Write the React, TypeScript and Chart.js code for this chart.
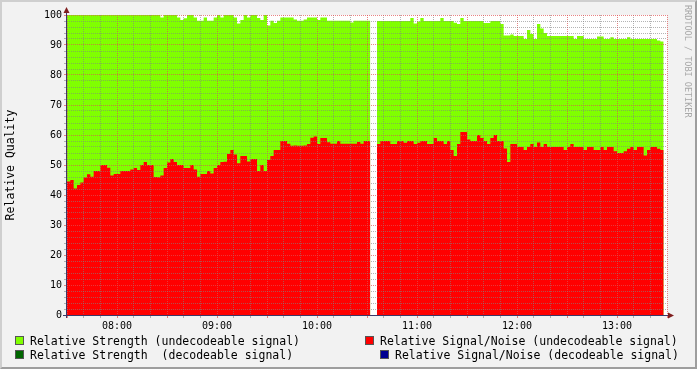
import React, { useEffect, useRef } from 'react';
import { Chart, registerables } from 'chart.js';

Chart.register(...registerables);

// time axis in minutes since midnight
const START_MIN = 450; // 07:30, first sample
const STEP_MIN = 2; // sample width in minutes
const X_MIN = 450; // 07:30
const X_MAX = 810; // 13:30

const HOUR_LABELS = ['08:00', '09:00', '10:00', '11:00', '12:00', '13:00'];
const FIRST_HOUR_MIN = 480;

// Relative Strength (undecodeable signal)
const strengthUndecodeable: (number | null)[] = [
  100, 100, 100, 100, 100, 100, 100, 100, 100, 100,
  100, 100, 100, 100, 100, 100, 100, 100, 100, 100,
  100, 100, 100, 100, 100, 100, 100, 100, 99.2, 100,
  100, 100, 100, 99.2, 98.3, 98.9, 100, 100, 99.2, 98.1,
  98.1, 99.2, 98.1, 98.1, 99.2, 100, 99.2, 100, 100, 100,
  99.2, 97.2, 98.3, 100, 99.2, 100, 100, 99, 98.3, 100,
  96.5, 98.1, 97.3, 98.1, 99.2, 99.2, 99.2, 99.2, 98.5, 98.1,
  98.1, 98.5, 99.2, 99.2, 99.2, 98.3, 99.2, 99.2, 98.1, 98.1,
  98.1, 98.1, 98.1, 98.1, 98.1, 97.5, 98.1, 98.1, 98.1, 98.1,
  98.1, null, null, 98, 98, 98, 98, 98, 98, 98,
  98, 98, 98, 99, 97.2, 97.8, 99, 98, 98, 98,
  98, 98, 99, 98, 98, 98, 97.4, 97, 99, 98,
  98, 98, 98, 98, 98, 97.3, 97.3, 98, 98, 98,
  97, 93.2, 93.2, 93.5, 93, 93, 93, 92, 95, 93.7,
  92, 97, 95.5, 94, 93, 93, 93, 93, 93, 93,
  93, 93, 92, 93, 93, 92, 92, 92, 92, 92.8,
  92.8, 92, 92, 92.6, 92, 92, 92, 92, 92.6, 92,
  92, 92, 92, 92, 92, 92, 92, 91.5, 91.2,
];

// Relative Signal/Noise (undecodeable signal)
const snrUndecodeable: (number | null)[] = [
  44.5, 45, 42.2, 43.3, 44.2, 45.8, 46.9, 46.1, 48, 48,
  50, 50, 49.1, 46.5, 47, 47, 48, 48, 48, 48.5,
  49, 48.3, 50, 51, 50, 50, 46, 45.9, 46.5, 49,
  50.8, 52, 51, 50, 50, 49, 49, 50, 48.5, 46.1,
  47, 47, 48, 47.2, 49, 50, 51, 51.1, 53.7, 55,
  53.5, 50.6, 53, 53, 51.2, 52, 52, 48, 50, 48,
  51.7, 53, 55, 55, 58, 58, 57.1, 56.4, 56.5, 56.4,
  56.4, 56.5, 57, 59.1, 59.5, 57, 59, 59, 57.6, 57.1,
  57.1, 58, 57.1, 57.1, 57.1, 57.1, 57.1, 57.7, 57.1, 58,
  58, null, null, 57, 58, 58, 58, 57, 57, 58,
  58, 57.4, 58, 58, 57, 57.4, 58, 58, 57, 57,
  59, 58, 58, 57, 58, 55, 53, 57, 61, 61,
  58.5, 58, 58, 60, 59, 58, 57, 59, 60, 58,
  58, 55.5, 51, 57, 57, 56, 56, 55, 56, 57,
  56, 57.5, 56, 57, 56, 56, 56, 56, 56, 55,
  56, 57, 56, 56, 56, 55, 56, 56, 55, 55,
  56, 55, 56, 56, 54.6, 54, 54, 54.6, 55.4, 56,
  55, 56, 56, 53.2, 55, 56, 56, 55.4, 55,
];

// decodeable series: nothing visible in the picture
const strengthDecodeable: (number | null)[] = [];
const snrDecodeable: (number | null)[] = [];

const SERIES_NAMES = [
  'Relative Strength (undecodeable signal)',
  'Relative Signal/Noise (undecodeable signal)',
  'Relative Strength  (decodeable signal)',
  'Relative Signal/Noise (decodeable signal)',
];
const SERIES_COLORS = ['#80FF00', '#FF0000', '#006600', '#000090'];

const GRID = 'rgba(130,130,130,0.6)';
const MGRID = 'rgba(222,80,80,0.7)';
const AXIS = '#3c3868';
const ARROW = '#801F1F';
const MONO = "'DejaVu Sans Mono', monospace";

function toStepPoints(vals: (number | null)[]) {
  const pts: { x: number; y: number | null }[] = [];
  vals.forEach((v, i) => {
    const x0 = START_MIN + i * STEP_MIN;
    if (v === null || v === undefined) {
      pts.push({ x: x0, y: null });
    } else {
      pts.push({ x: x0, y: v });
      pts.push({ x: x0 + STEP_MIN, y: v });
    }
  });
  return pts;
}

export default function App() {
  const ref = useRef<HTMLCanvasElement>(null);

  useEffect(() => {
    document.body.style.margin = '0';
    const canvas = ref.current;
    if (!canvas) return;

    const areaBg = {
      id: 'areaBg',
      beforeDraw(chart: any) {
        const { ctx, chartArea } = chart;
        ctx.save();
        ctx.fillStyle = '#FFFFFF';
        ctx.fillRect(chartArea.left, chartArea.top, chartArea.right - chartArea.left, chartArea.bottom - chartArea.top);
        ctx.restore();
      },
    };

    const axesArrows = {
      id: 'axesArrows',
      afterDraw(chart: any) {
        const { ctx, chartArea } = chart;
        const { left, top, right, bottom } = chartArea;
        ctx.save();
        ctx.strokeStyle = AXIS;
        ctx.lineWidth = 1;
        ctx.beginPath();
        ctx.moveTo(left - 0.5, bottom + 3);
        ctx.lineTo(left - 0.5, top - 3);
        ctx.moveTo(left - 4, bottom + 0.5);
        ctx.lineTo(right + 2, bottom + 0.5);
        ctx.stroke();
        ctx.fillStyle = ARROW;
        ctx.beginPath();
        ctx.moveTo(left - 0.5, top - 8);
        ctx.lineTo(left - 3.5, top - 2);
        ctx.lineTo(left + 2.5, top - 2);
        ctx.closePath();
        ctx.fill();
        ctx.beginPath();
        ctx.moveTo(right + 7, bottom + 0.5);
        ctx.lineTo(right + 1, bottom - 2.5);
        ctx.lineTo(right + 1, bottom + 3.5);
        ctx.closePath();
        ctx.fill();
        ctx.restore();
      },
    };

    const gridX = (c: any) => (c.tick && c.tick.value % 30 === 0 ? MGRID : GRID);
    const gridY = (c: any) => (c.tick && c.tick.value % 10 === 0 ? MGRID : GRID);

    const chart = new Chart(canvas, {
      type: 'line',
      data: {
        datasets: [
          {
            label: SERIES_NAMES[1],
            data: toStepPoints(snrUndecodeable) as any,
            backgroundColor: SERIES_COLORS[1],
            borderColor: 'rgba(0,0,0,0)',
            borderWidth: 0,
            fill: 'origin',
            pointRadius: 0,
            tension: 0,
            order: 1,
          },
          {
            label: SERIES_NAMES[0],
            data: toStepPoints(strengthUndecodeable) as any,
            backgroundColor: SERIES_COLORS[0],
            borderColor: 'rgba(0,0,0,0)',
            borderWidth: 0,
            fill: 'origin',
            pointRadius: 0,
            tension: 0,
            order: 2,
          },
          {
            label: SERIES_NAMES[2],
            data: toStepPoints(strengthDecodeable) as any,
            backgroundColor: SERIES_COLORS[2],
            borderColor: 'rgba(0,0,0,0)',
            borderWidth: 0,
            fill: 'origin',
            pointRadius: 0,
            order: 3,
          },
          {
            label: SERIES_NAMES[3],
            data: toStepPoints(snrDecodeable) as any,
            backgroundColor: SERIES_COLORS[3],
            borderColor: 'rgba(0,0,0,0)',
            borderWidth: 0,
            fill: 'origin',
            pointRadius: 0,
            order: 0,
          },
        ],
      },
      options: {
        animation: false,
        responsive: false,
        maintainAspectRatio: false,
        events: [],
        layout: { padding: { left: 0, top: 15, right: 30, bottom: 34 } },
        plugins: {
          legend: { display: false },
          tooltip: { enabled: false },
        },
        scales: {
          x: {
            type: 'linear',
            min: X_MIN,
            max: X_MAX,
            afterFit: (s: any) => {
              s.height = 20;
            },
            ticks: {
              stepSize: 10,
              maxTicksLimit: 1000,
              autoSkip: false,
              maxRotation: 0,
              minRotation: 0,
              padding: 2,
              color: '#000',
              font: { family: MONO, size: 10 },
              callback: (v: any) => {
                const n = Number(v);
                if (n % 60 !== 0) return '';
                return HOUR_LABELS[(n - FIRST_HOUR_MIN) / 60] ?? '';
              },
            },
            grid: {
              z: 1,
              color: gridX,
              tickColor: gridX,
              tickLength: 3,
              lineWidth: 1,
              drawTicks: true,
              borderDash: [1, 1],
            } as any,
            border: { display: false, dash: [1, 1] },
          },
          y: {
            type: 'linear',
            min: 0,
            max: 100,
            afterFit: (s: any) => {
              s.width = 67;
            },
            title: {
              display: true,
              text: 'Relative Quality',
              color: '#000',
              font: { family: MONO, size: 11.5 },
              padding: { top: 4, bottom: 0 },
            },
            ticks: {
              stepSize: 2,
              maxTicksLimit: 1000,
              autoSkip: false,
              padding: 2,
              color: '#000',
              font: { family: MONO, size: 10 },
              callback: (v: any) => (Number(v) % 10 === 0 ? String(v) : ''),
            },
            grid: {
              z: 1,
              color: gridY,
              tickColor: gridY,
              tickLength: 3,
              lineWidth: 1,
              drawTicks: true,
              borderDash: [1, 1],
            } as any,
            border: { display: false, dash: [1, 1] },
          },
        },
      } as any,
      plugins: [areaBg, axesArrows],
    });

    return () => chart.destroy();
  }, []);

  const legendItems = [
    { name: SERIES_NAMES[0], color: SERIES_COLORS[0], boxLeft: 15, textLeft: 30, cy: 341 },
    { name: SERIES_NAMES[1], color: SERIES_COLORS[1], boxLeft: 365, textLeft: 380, cy: 341 },
    { name: SERIES_NAMES[2], color: SERIES_COLORS[2], boxLeft: 15, textLeft: 30, cy: 355 },
    { name: SERIES_NAMES[3], color: SERIES_COLORS[3], boxLeft: 380, textLeft: 395, cy: 355 },
  ];

  return (
    <div
      style={{
        position: 'fixed',
        left: 0,
        top: 0,
        width: 697,
        height: 369,
        background: '#F2F2F2',
        overflow: 'hidden',
      }}
    >
      <canvas ref={ref} width={697} height={369} style={{ position: 'absolute', left: 0, top: 0 }} />
      {legendItems.map((it) => (
        <React.Fragment key={it.name}>
          <div
            style={{
              position: 'absolute',
              left: it.boxLeft,
              top: it.cy - 5,
              width: 7,
              height: 7,
              background: it.color,
              border: '1px solid #555',
            }}
          />
          <div
            style={{
              position: 'absolute',
              left: it.textLeft,
              top: it.cy - 7,
              height: 14,
              lineHeight: '14px',
              fontFamily: MONO,
              fontSize: 11.5,
              color: '#000',
              whiteSpace: 'pre',
            }}
          >
            {it.name}
          </div>
        </React.Fragment>
      ))}
      <div
        style={{
          position: 'absolute',
          left: 683,
          top: 5,
          writingMode: 'vertical-rl',
          fontFamily: MONO,
          fontSize: 8.5,
          lineHeight: '10px',
          color: '#a8a8a8',
          whiteSpace: 'pre',
        }}
      >
        RRDTOOL / TOBI OETIKER
      </div>
      <div
        style={{
          position: 'absolute',
          left: 0,
          top: 0,
          width: 697,
          height: 369,
          boxSizing: 'border-box',
          borderTop: '2px solid #CFCFCF',
          borderLeft: '2px solid #CFCFCF',
          borderRight: '2px solid #9E9E9E',
          borderBottom: '2px solid #9E9E9E',
          pointerEvents: 'none',
        }}
      />
    </div>
  );
}
